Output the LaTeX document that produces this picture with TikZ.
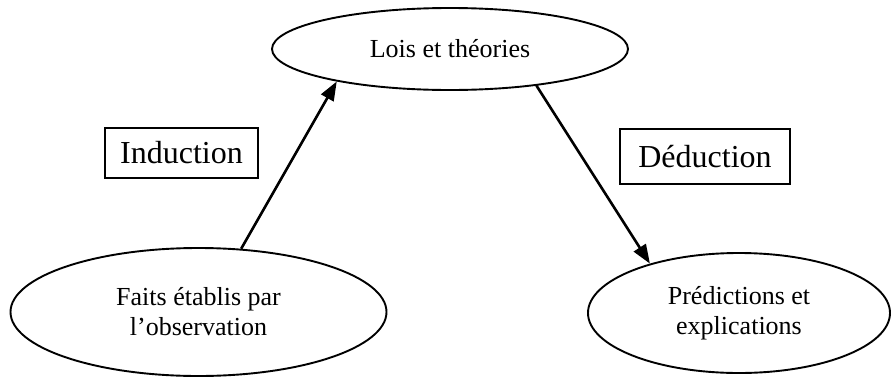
\documentclass[tikz,border=0pt]{standalone}
\usepackage{fontspec}
\setmainfont{Liberation Serif}
\usetikzlibrary{shapes.geometric,arrows.meta}
\begin{document}
\begin{tikzpicture}[x=1pt,y=-1pt,
  oval/.style={draw,ellipse,line width=1.9pt,inner sep=0pt,align=center,
    font=\fontsize{26}{30}\selectfont},
  labelbox/.style={draw,rectangle,line width=1.2pt,inner sep=0pt,
    font=\fontsize{32}{36}\selectfont},
  arr/.style={line width=2.6pt,-{Triangle[length=19pt,width=14pt]}}]
\useasboundingbox (0,0) rectangle (892,378);
% the three stages
\node[oval,minimum width=356pt,minimum height=82pt] (lois) at (450,49) {Lois et théories};
\node[oval,minimum width=376pt,minimum height=128pt] (faits) at (198.5,312) {Faits établis par\\l’observation};
\node[oval,minimum width=302pt,minimum height=120pt] (pred) at (739,313) {Prédictions et\\explications};
% the two reasoning modes
\node[labelbox,minimum width=153pt,minimum height=50pt] (ind) at (181.5,153) {Induction};
\node[labelbox,minimum width=170pt,minimum height=55pt] (ded) at (705,156.5) {Déduction};
% connectors
\draw[arr] (faits.56.8) -- (lois.196.4);
\draw[arr] (lois.337.8) -- (pred.151.2);
\end{tikzpicture}
\end{document}
